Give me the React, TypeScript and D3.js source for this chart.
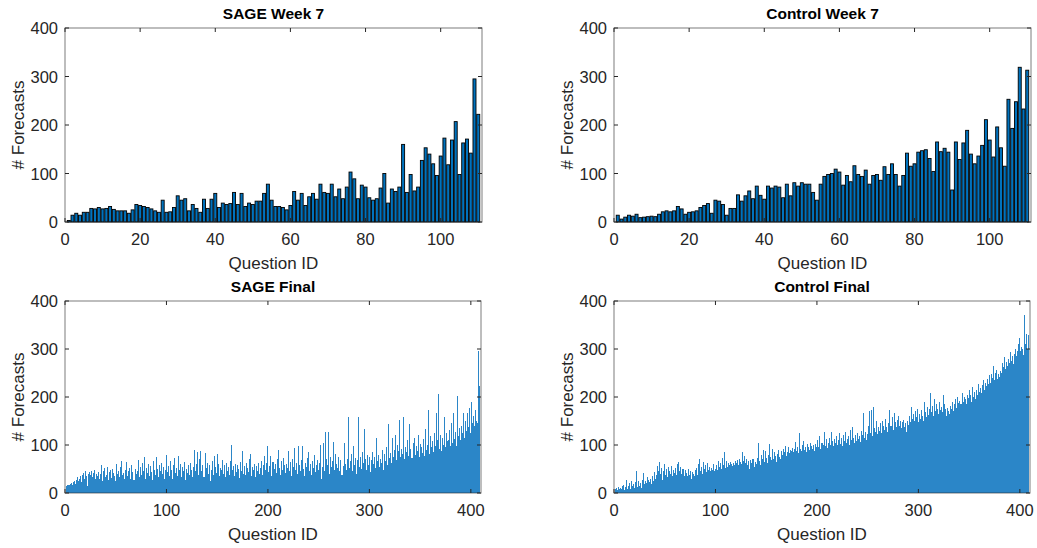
import React from "react";
import * as d3 from "d3";

const sageWeek7 = [3,14,18,14,20,20,28,27,30,27,28,32,26,23,23,23,18,25,36,34,32,30,27,23,20,45,20,21,30,54,45,48,23,36,28,20,47,28,
47,59,30,39,36,38,61,36,59,32,39,36,43,43,59,78,45,32,32,30,25,34,63,45,59,34,52,59,47,78,61,59,78,52,
68,48,72,103,89,48,76,72,50,45,48,70,100,39,68,63,72,160,61,98,64,72,127,153,140,120,96,136,173,118,169,207,98,163,171,142,295,222];

const controlWeek7 = [14,6,10,14,12,16,9,10,11,12,11,16,21,23,21,23,32,27,16,20,21,23,30,34,38,18,45,43,36,14,28,28,56,43,54,64,48,
74,55,47,74,70,74,72,50,78,54,81,74,81,78,78,61,45,78,94,98,100,109,103,76,96,83,116,98,94,107,78,96,98,86,114,98,120,
98,74,96,142,115,120,144,147,149,131,104,165,145,152,144,66,165,129,163,189,140,120,136,158,211,169,134,196,153,115,253,193,248,319,233,313];

const sageFinal = [
15,16,17,16,18,20,17,22,25,19,
28,33,24,30,35,22,38,42,30,45,
36,14,40,44,38,46,33,41,47,29,
40,36,43,30,39,58,25,45,52,34,
38,55,28,44,47,31,50,42,36,24,
61,40,46,33,55,67,38,42,29,48,
65,36,45,52,30,59,44,27,50,40,
46,68,33,55,38,62,45,76,30,52,
41,60,35,57,43,28,66,48,37,75,
50,33,58,45,62,40,54,29,48,80,
44,56,36,66,47,30,58,73,42,52,
36,78,47,60,33,55,45,65,28,50,
42,58,37,62,48,33,54,90,45,60,
85,38,70,88,46,58,33,83,52,62,
40,59,24,48,66,38,78,55,42,81,
60,36,52,47,69,40,58,33,62,45,
55,38,66,100,48,56,35,61,43,58,
50,31,65,46,87,40,57,38,62,52,
44,70,81,36,55,48,60,33,57,45,
63,40,52,66,38,58,78,47,62,98,
44,57,78,36,65,50,60,42,70,90,
53,38,66,48,72,58,41,60,52,87,
45,64,36,70,55,93,48,62,40,97,
58,45,68,98,50,35,62,55,72,85,
46,60,38,66,52,79,44,58,68,48,
62,100,30,55,104,46,127,70,58,127,
40,76,55,66,107,48,82,60,52,75,
45,68,38,56,104,60,47,70,159,52,
66,82,45,97,58,72,40,68,159,55,
74,50,86,62,134,70,48,80,58,76,
44,68,85,60,74,52,114,66,80,55,
70,62,90,48,82,66,95,58,143,72,
84,62,115,76,90,120,68,100,88,152,
75,92,82,158,70,96,85,110,78,144,
92,72,105,115,80,98,88,120,76,102,
95,84,112,78,134,90,100,172,82,118,
96,108,86,124,98,167,110,206,92,120,
88,115,100,159,96,125,108,110,132,98,
145,105,166,112,128,98,202,118,135,110,
140,125,167,115,150,130,167,138,178,125,
190,145,160,140,172,150,145,295,222];

const controlFinal = [
8,10,7,12,9,11,8,14,17,6,
12,28,9,15,20,8,26,14,18,10,
22,46,12,24,15,20,10,28,41,18,
25,20,33,28,22,30,18,35,26,43,
30,38,57,45,64,40,52,28,45,61,
38,50,33,55,46,40,57,36,48,42,
52,38,60,64,45,55,40,50,36,48,
42,35,50,38,45,30,44,40,36,47,
52,38,60,71,45,55,40,65,50,58,
44,62,48,55,46,52,48,60,45,50,
58,48,67,55,62,50,73,58,85,52,
66,55,62,58,65,60,56,63,58,66,
62,68,58,70,64,60,85,66,78,62,
70,58,66,50,68,62,70,55,64,60,
72,104,66,58,80,70,90,64,88,72,
62,80,102,75,68,92,70,85,78,65,
82,90,76,70,88,80,92,85,98,78,
86,95,83,90,88,94,85,92,106,88,
95,84,125,92,88,100,109,90,96,85,
102,96,90,105,98,92,100,88,103,96,
110,95,119,92,105,100,128,98,112,94,
105,115,100,128,108,97,112,104,118,100,
110,125,102,115,98,120,108,128,104,112,
118,100,131,110,138,115,105,120,108,125,
112,118,106,130,120,166,115,128,110,122,
140,170,125,173,118,180,135,128,149,122,
138,130,145,125,150,140,132,155,138,128,
145,173,140,158,132,166,148,138,152,160,
140,150,135,148,152,138,145,128,150,142,
160,148,180,155,165,150,170,158,175,148,
165,155,172,160,150,190,168,158,180,162,
175,209,168,182,160,195,170,185,175,165,
190,172,180,168,204,185,175,160,178,170,
165,182,176,190,170,185,195,178,200,188,
192,185,209,190,200,196,185,205,198,215,
205,190,220,200,210,195,215,205,228,210,
218,208,225,235,215,230,222,238,228,245,
230,248,240,264,235,250,256,238,248,242,
255,250,270,262,284,258,273,265,280,270,
294,275,285,268,290,301,285,295,310,322,
295,305,300,288,370,310,332,300,330];

const yTicks = [0, 100, 200, 300, 400];
const weekXTicks = [0, 20, 40, 60, 80, 100];
const finalXTicks = [0, 100, 200, 300, 400];

const FONT = "'Liberation Sans', Arial, Helvetica, sans-serif";
const AX = "#262626";

type PanelProps = {
  title: string;
  values: number[];
  xMax: number;
  xTicks: number[];
  left: number;
  right: number;
  top: number;
  bottom: number;
  outlined: boolean;
};

function Panel({ title, values, xMax, xTicks, left, right, top, bottom, outlined }: PanelProps) {
  const x = d3.scaleLinear().domain([0, xMax]).range([left, right]);
  const y = d3.scaleLinear().domain([0, 400]).range([bottom, top]);
  const bw = outlined ? x(0.8) - x(0) : x(1) - x(0);
  const tickLen = 4;
  return (
    <g>
      <g shapeRendering={outlined ? "auto" : "crispEdges"}>
        {values.map((v, i) => (
          <rect
            key={i}
            x={x(i + 1) - bw / 2}
            y={y(v)}
            width={bw}
            height={y(0) - y(v)}
            fill={outlined ? "#0072BD" : "#2B86C8"}
            stroke={outlined ? "#000" : "none"}
            strokeWidth={outlined ? 0.9 : 0}
          />
        ))}
      </g>
      <rect x={left} y={top} width={right - left} height={bottom - top} fill="none" stroke={AX} strokeOpacity={0.6} strokeWidth={1} />
      {xTicks.map((t) => (
        <g key={"x" + t}>
          <line x1={x(t)} x2={x(t)} y1={bottom} y2={bottom - tickLen} stroke={AX} />
          <line x1={x(t)} x2={x(t)} y1={top} y2={top + tickLen} stroke={AX} />
          <text x={x(t)} y={bottom + 23} textAnchor="middle" fontSize={16.5} fill={AX} fontFamily={FONT}>{t}</text>
        </g>
      ))}
      {yTicks.map((t) => (
        <g key={"y" + t}>
          <line x1={left} x2={left + tickLen} y1={y(t)} y2={y(t)} stroke={AX} />
          <line x1={right} x2={right - tickLen} y1={y(t)} y2={y(t)} stroke={AX} />
          <text x={left - 7} y={y(t) + 6} textAnchor="end" fontSize={16.5} fill={AX} fontFamily={FONT}>{t}</text>
        </g>
      ))}
      <text x={(left + right) / 2} y={top - 9} textAnchor="middle" fontSize={15.5} fontWeight="bold" fill="#000" fontFamily={FONT}>{title}</text>
      <text x={(left + right) / 2} y={bottom + 47} textAnchor="middle" fontSize={17} fill={AX} fontFamily={FONT}>Question ID</text>
      <text transform={`translate(${left - 41},${(top + bottom) / 2}) rotate(-90)`} textAnchor="middle" fontSize={17} fill={AX} fontFamily={FONT}># Forecasts</text>
    </g>
  );
}

export default function App() {
  return (
    <svg width={1037} height={548} style={{ position: "absolute", left: 0, top: 0, background: "#fff" }}>
      <rect x={0} y={0} width={1037} height={548} fill="#fff" />
      <Panel title="SAGE Week 7" values={sageWeek7} xMax={111} xTicks={weekXTicks} left={65} right={482} top={28} bottom={222} outlined={true} />
      <Panel title="Control Week 7" values={controlWeek7} xMax={111} xTicks={weekXTicks} left={614} right={1031} top={28} bottom={222} outlined={true} />
      <Panel title="SAGE Final" values={sageFinal} xMax={410} xTicks={finalXTicks} left={65} right={481} top={301} bottom={493} outlined={false} />
      <Panel title="Control Final" values={controlFinal} xMax={410} xTicks={finalXTicks} left={614} right={1030} top={301} bottom={493} outlined={false} />
    </svg>
  );
}
